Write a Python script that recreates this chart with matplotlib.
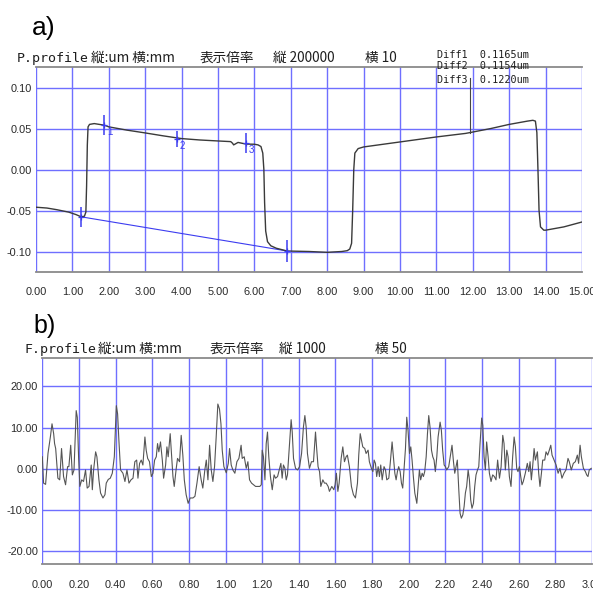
import matplotlib
matplotlib.use('Agg')
import matplotlib.pyplot as plt

plt.rcParams['axes.unicode_minus'] = False

# ---------------- data: (a) P.profile ----------------
p_x = [0.00, 0.30, 0.57, 0.90, 1.10, 1.24, 1.33, 1.37, 1.39, 1.41, 1.43, 1.47, 1.60, 1.88, 2.00,
       2.50, 3.00, 3.50, 4.00, 4.50, 5.00, 5.35, 5.40, 5.43, 5.47, 5.55, 5.77, 6.00, 6.10, 6.18,
       6.23, 6.26, 6.28, 6.31, 6.36, 6.45, 6.60, 6.90, 7.50, 8.00, 8.40, 8.55, 8.62, 8.67, 8.70,
       8.73, 8.76, 8.85, 9.00, 10.00, 11.00, 11.80, 11.92, 12.00, 12.50, 13.00, 13.50, 13.65,
       13.72, 13.76, 13.79, 13.82, 13.86, 13.95, 14.00, 14.50, 15.00]
p_y = [-0.046, -0.047, -0.049, -0.052, -0.055, -0.0577, -0.057, -0.052, -0.020, 0.030, 0.052,
       0.055, 0.056, 0.054, 0.052, 0.048, 0.0446, 0.041, 0.0377, 0.036, 0.0348, 0.034, 0.032,
       0.030, 0.031, 0.033, 0.031, 0.0308, 0.030, 0.028, 0.020, 0.000, -0.040, -0.075, -0.088,
       -0.093, -0.096, -0.0994, -0.100, -0.101, -0.100, -0.099, -0.097, -0.090, -0.050, 0.000,
       0.020, 0.0255, 0.0275, 0.0336, 0.0397, 0.044, 0.045, 0.0457, 0.050, 0.055, 0.059, 0.060,
       0.059, 0.045, 0.000, -0.050, -0.070, -0.074, -0.074, -0.070, -0.064]
spike_x = 11.92
spike_y = [0.045, 0.112]

mark_x = [1.24, 1.88, 3.87, 5.77, 6.90]
mark_y = [-0.0577, 0.0539, 0.0377, 0.0324, -0.0994]
mark_lab = ['', '1', '2', '3', '']
mark_len = [14, 15, 11, 15, 16]
base_idx = [0, 4]

a_xticks = list(range(0, 16))
a_xlabels = ['%.2f' % v for v in a_xticks]
a_yticks = [-0.10, -0.05, 0.00, 0.05, 0.10]
a_ylabels = ['-0.10', '-0.05', '0.00', '0.05', '0.10']

# ---------------- data: (b) F.profile ----------------
f_x = [0.000, 0.007, 0.018, 0.031, 0.044, 0.053, 0.062, 0.067, 0.073, 0.085, 0.095, 0.105, 0.116,
       0.127, 0.138, 0.145, 0.155, 0.164, 0.173, 0.185, 0.191, 0.198, 0.205, 0.215, 0.225, 0.236,
       0.245, 0.255, 0.267, 0.273, 0.280, 0.291, 0.298, 0.309, 0.318, 0.331, 0.342, 0.349, 0.360,
       0.371, 0.382, 0.393, 0.404, 0.411, 0.418, 0.427, 0.440, 0.451, 0.462, 0.473, 0.484, 0.495,
       0.505, 0.515, 0.522, 0.531, 0.540, 0.549, 0.560, 0.567, 0.575, 0.585,
       0.595, 0.604, 0.613, 0.622, 0.629, 0.636, 0.645, 0.655, 0.662, 0.673, 0.680, 0.687, 0.698,
       0.705, 0.713, 0.720, 0.731, 0.738, 0.749, 0.758, 0.767, 0.775, 0.785, 0.796, 0.807, 0.822,
       0.833, 0.844, 0.856, 0.867, 0.876, 0.887, 0.895, 0.904, 0.913, 0.922, 0.931, 0.940, 0.949,
       0.958, 0.967, 0.975, 0.982, 0.991, 1.004, 1.015, 1.022, 1.031, 1.040, 1.051, 1.062, 1.073,
       1.085, 1.091, 1.102, 1.113, 1.122, 1.131, 1.142, 1.153, 1.164, 1.175, 1.187, 1.195,
       1.200, 1.207, 1.215, 1.222, 1.229, 1.236, 1.245, 1.255, 1.265, 1.273, 1.284, 1.295, 1.302,
       1.309, 1.316, 1.324, 1.331, 1.338, 1.349, 1.358, 1.364, 1.371, 1.382, 1.393, 1.404, 1.415,
       1.425, 1.433, 1.440, 1.447, 1.458, 1.469, 1.480, 1.491, 1.498, 1.505, 1.513, 1.520, 1.531,
       1.540, 1.549, 1.560, 1.567, 1.580, 1.591, 1.598, 1.605, 1.613, 1.620, 1.631, 1.640, 1.649,
       1.658, 1.665, 1.676, 1.687, 1.698, 1.709, 1.720, 1.727, 1.735, 1.742, 1.749, 1.760, 1.767,
       1.778, 1.785, 1.796,
       1.804, 1.811, 1.818, 1.825, 1.833, 1.840, 1.847, 1.855, 1.865, 1.873, 1.880, 1.891, 1.898,
       1.909, 1.916, 1.924, 1.931, 1.938, 1.945, 1.953, 1.960, 1.967, 1.975, 1.982, 1.989, 1.996,
       2.004, 2.011, 2.018, 2.025, 2.033, 2.044, 2.051, 2.058, 2.065, 2.073, 2.080, 2.087, 2.095,
       2.102, 2.109, 2.116, 2.124, 2.131, 2.138, 2.145, 2.153, 2.160, 2.171, 2.178, 2.185, 2.193,
       2.200, 2.207, 2.218, 2.229, 2.236, 2.244, 2.251, 2.258, 2.265, 2.273, 2.280, 2.287, 2.295,
       2.302, 2.309, 2.316, 2.324, 2.331, 2.338, 2.345, 2.353, 2.360, 2.367, 2.375, 2.382, 2.389,
       2.398,
       2.404, 2.411, 2.418, 2.425, 2.433, 2.440, 2.449, 2.458, 2.467, 2.476, 2.485, 2.495, 2.504,
       2.513, 2.520, 2.527, 2.535, 2.542, 2.549, 2.558, 2.567, 2.575, 2.582, 2.589, 2.596, 2.604,
       2.611, 2.618, 2.625, 2.636, 2.647, 2.655, 2.662, 2.669, 2.676, 2.684, 2.691, 2.702, 2.709,
       2.716, 2.724, 2.731, 2.742, 2.749, 2.758, 2.767, 2.775, 2.782, 2.793, 2.804, 2.815, 2.825,
       2.836, 2.847, 2.858, 2.869, 2.876, 2.887, 2.898, 2.909, 2.920, 2.927, 2.935, 2.942, 2.953,
       2.964, 2.971, 2.978, 2.985, 2.996]
f_y = [2.9, -3.5, -3.8, 3.7, 7.7, 10.9, 8.5, 6.1, 4.9, -2.3, -2.7, 4.9, -1.9,
       -3.9, 0.5, 0.5, 5.7, -1.5, -0.3, 14.1, 12.5, 2.9, -4.3, -2.7, -3.1, -0.3,
       -4.7, -4.3, 0.9, -5.1, -0.3, 4.1, 2.9, -2.7, -5.9, -7.1, -6.3, -3.5, -2.6,
       -2.3, -1.1, 2.9, 15.3, 13.3, 6.9, -0.3, -1.1, -3.1, -0.3, -3.5, -2.7, -2.3,
       1.7, 2.1, -2.3, 1.3, 2.1, 0.9, 7.7, 4.5, 2.5, 1.7,
       -1.9, -1.1, 2.1, 2.9, 6.1, 4.1, 6.5, 2.1, -2.3, 0.9, 5.3, 2.9, 8.5,
       3.7, -1.9, -4.3, 0.1, 2.5, 1.7, 8.1, 3.3, -2.7, -6.3, -8.4, -7.1, -7.1,
       -6.7, -3.5, 0.5, -2.7, -4.7, -0.3, 2.1, -2.7, 5.7, -0.3, -3.1, 0.5, 7.7,
       15.7, 14.5, 10.9, 4.5, 0.5, -1.0, 1.3, 4.9, 0.9, -0.3, -1.1, 1.7, 2.5,
       5.7, 2.5, 2.9, 0.1, 1.7, -2.7, -3.5, -3.9, -4.3, -4.3, -4.3, -3.9,
       4.5, 2.9, -2.7, 6.1, 8.9, 2.9, -1.9, -5.1, -1.5, -2.3, -1.9, 0.1, 1.3,
       -2.3, 0.9, 0.1, -2.7, -1.5, 6.1, 11.9, 8.9, 2.5, 0.1, -0.3, 0.5, 3.7,
       10.1, 12.9, 10.1, 3.7, 0.1, 1.7, 1.7, 8.9, 4.5, 0.5, -0.7, -4.3, -2.7,
       -3.5, -3.5, -4.3, -5.5, -4.3, -5.1, -3.9, -1.1, -5.5, -3.5, 2.5, 5.3, 1.7,
       2.9, 3.3, 0.5, -4.3, -6.3, -7.1, -3.5, 3.3, 8.5, 6.9, 5.3, 4.9, 3.7,
       4.5, 1.7, 0.1,
       -0.7, 2.1, 1.3, -1.9, 0.5, -1.9, 0.9, -2.7, 0.5, -0.3, -2.7, -2.3, 0.9,
       6.5, 2.9, -1.1, -2.7, -0.7, 0.5, -0.7, -3.5, -4.7, 0.5, 4.9, 12.5, 9.3,
       3.7, 5.3, 2.1, -1.9, -5.9, -8.4, -4.3, -0.3, -2.7, -1.1, -1.9, -0.7, 2.9,
       8.5, 12.9, 10.1, 4.5, 2.9, 2.1, -0.7, 2.9, 7.7, 11.3, 9.3, 4.5, 0.9,
       0.5, -0.3, 0.5, 3.7, 5.7, 1.7, -1.1, 0.5, 2.1, -5.1, -10.8, -12.0, -11.2,
       -9.2, -5.9, -4.3, -0.3, -2.7, -7.6, -9.6, -8.4, -4.3, -1.5, -0.3, 0.5, 6.1,
       12.3,
       10.5, 2.9, -0.3, 6.5, 2.9, -1.1, -3.1, -1.5, -1.9, -2.7, 2.1, -2.3, 0.5,
       8.1, 6.1, -0.3, 4.5, 2.9, -1.9, -4.3, 2.9, 7.7, 5.3, 0.1, -0.7, 0.5,
       -1.9, -3.9, -3.1, -1.1, 1.3, -0.7, 1.7, -2.7, 0.5, 4.9, 2.1, 4.1, -1.1,
       -4.3, -1.1, 2.1, 2.1, 4.1, 3.3, 4.5, 5.7, 3.3, 2.1, 0.9, -1.1, 0.1,
       -2.3, -1.1, -0.3, 2.5, 1.7, -0.3, 1.3, 1.7, 3.3, 1.3, 5.7, 2.9, 0.1,
       -0.7, -1.5, -1.9, -0.3, 0.1]

b_xticks = [i * 0.2 for i in range(16)]
b_xlabels = ['%.2f' % v for v in b_xticks]
b_yticks = [-20, -10, 0, 10, 20]
b_ylabels = ['-20.00', '-10.00', '0.00', '10.00', '20.00']

# ---------------- style ----------------
W, H = 593, 590
GRID = '#6f6fff'
SPINE = '#8a8a8a'
MARK = '#3c3cf0'
TICKFONT = 'Liberation Sans'
JP = ['Noto Sans CJK JP', 'DejaVu Sans']
MONO = 'DejaVu Sans Mono'
TXT = '#1e1e1e'

fig = plt.figure(figsize=(W / 100, H / 100), dpi=100)


def fx(px):
    return px / W


def fy(py):
    return 1 - py / H


def style(ax, xt, xl, yt, yl, xlim, ylim, xpad):
    ax.set_xlim(*xlim)
    ax.set_ylim(*ylim)
    ax.set_xticks(xt)
    ax.set_xticklabels(xl)
    ax.set_yticks(yt)
    ax.set_yticklabels(yl)
    ax.grid(True, color=GRID, lw=1.0)
    ax.set_axisbelow(True)
    for s in ['left', 'right']:
        ax.spines[s].set_visible(False)
    for s in ['top', 'bottom']:
        ax.spines[s].set_color(SPINE)
        ax.spines[s].set_linewidth(1.3)
    ax.tick_params(length=0, labelsize=7.9, labelcolor='#2a2a2a')
    ax.tick_params(axis='x', pad=xpad)
    ax.tick_params(axis='y', pad=3)
    for lab in ax.get_xticklabels() + ax.get_yticklabels():
        lab.set_family(TICKFONT)


# ---------- (a) ----------
ax1 = fig.add_axes([fx(36), fy(272), (582 - 36) / W, (272 - 67) / H])
style(ax1, a_xticks, a_xlabels, a_yticks, a_ylabels, (0, 15), (-0.125, 0.125), 10.5)
ax1.plot(p_x, p_y, color='#3a3a3a', lw=1.0, zorder=3)
ax1.plot([spike_x, spike_x], spike_y, color='#444444', lw=0.8, zorder=3, clip_on=False)
ax1.plot([mark_x[i] for i in base_idx], [mark_y[i] for i in base_idx], color=MARK, lw=0.8, zorder=2)
for mx, my, ml, mlen in zip(mark_x, mark_y, mark_lab, mark_len):
    ax1.plot([mx], [my], marker='|', ms=mlen, mew=1.1, color=MARK, zorder=4)
    ax1.plot([mx], [my], marker='+', ms=5, mew=0.9, color=MARK, zorder=4)
    if ml:
        ax1.annotate(ml, (mx, my), xytext=(2, -5), textcoords='offset points',
                     fontsize=7, color=MARK, va='center', ha='left', family=TICKFONT)

# ---------- (b) ----------
ax2 = fig.add_axes([fx(42.3), fy(564.3), (592 - 42.3) / W, (564.3 - 358.3) / H])
style(ax2, b_xticks, b_xlabels, b_yticks, b_ylabels, (0, 3.0), (-23.2, 26.8), 11)
ax2.plot(f_x, f_y, color='#555555', lw=0.8, zorder=3)

# ---------- header texts ----------
fig.text(fx(32), fy(35), 'a)', fontsize=19, family='Liberation Sans', color='black', va='baseline')
fig.text(fx(17), fy(62), 'P.profile', fontsize=9.5, family=MONO, color=TXT, va='baseline')
fig.text(fx(90.7), fy(62), '縦:um 横:mm', fontsize=9.8, family=JP, color=TXT, va='baseline')
fig.text(fx(200), fy(62), '表示倍率', fontsize=9.8, family=JP, color=TXT, va='baseline')
fig.text(fx(273), fy(62), '縦 200000', fontsize=9.8, family=JP, color=TXT, va='baseline')
fig.text(fx(365), fy(62), '横 10', fontsize=9.8, family=JP, color=TXT, va='baseline')

diff_lines = ['Diff1  0.1165um', 'Diff2  0.1154um', 'Diff3  0.1220um']
diff_base = [58.3, 69.3, 83.3]
for t, b in zip(diff_lines, diff_base):
    fig.text(fx(436.7), fy(b), t, fontsize=7.3, family=MONO, color=TXT, va='baseline')

fig.text(fx(33), fy(333.3), 'b)', fontsize=18, family='Liberation Sans', color='black', va='baseline')
fig.text(fx(25), fy(352.7), 'F.profile', fontsize=9.5, family=MONO, color=TXT, va='baseline')
fig.text(fx(97.7), fy(352.7), '縦:um 横:mm', fontsize=9.8, family=JP, color=TXT, va='baseline')
fig.text(fx(209.3), fy(352.7), '表示倍率', fontsize=9.8, family=JP, color=TXT, va='baseline')
fig.text(fx(279.3), fy(352.7), '縦 1000', fontsize=9.8, family=JP, color=TXT, va='baseline')
fig.text(fx(375), fy(352.7), '横 50', fontsize=9.8, family=JP, color=TXT, va='baseline')

fig.savefig('out.png', dpi=100)
